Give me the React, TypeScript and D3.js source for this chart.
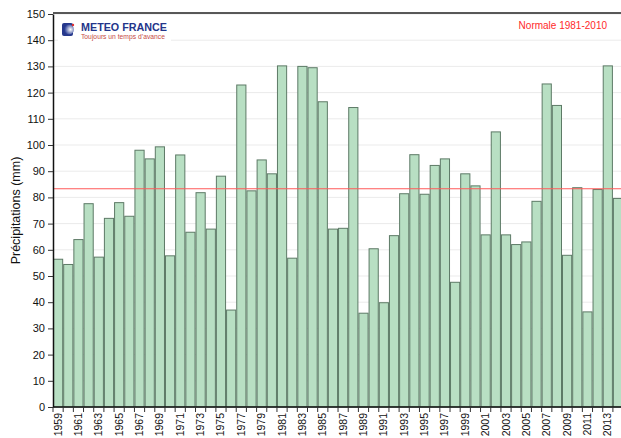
import React, { useEffect, useRef } from 'react';
import * as d3 from 'd3';

// annual precipitation (mm), 1959-2014
const years = d3.range(1959, 2015);
const precip = [
  56.4, 54.4, 63.9, 77.6, 57.2, 72.0, 78.0, 72.8, 98.0, 94.7,
  99.3, 57.7, 96.2, 66.7, 81.8, 67.9, 88.1, 37.0, 122.9, 82.5,
  94.3, 89.0, 130.2, 56.8, 130.0, 129.5, 116.5, 67.9, 68.2, 114.3,
  35.8, 60.4, 39.8, 65.4, 81.4, 96.3, 81.2, 92.2, 94.7, 47.6,
  89.0, 84.4, 65.7, 105.0, 65.7, 62.0, 63.0, 78.5, 123.3, 115.1,
  57.9, 83.7, 36.3, 83.0, 130.2, 79.6,
];
const normale = 83.3;
const yTicks = d3.range(0, 151, 10);

export default function App() {
  const ref = useRef<SVGSVGElement>(null);

  useEffect(() => {
    const svg = d3.select(ref.current);
    svg.selectAll('*').remove();

    const left = 53;
    const top = 14;
    const bottom = 407;
    const barW = 10.18;
    const right = left + barW * years.length;

    const x = d3.scaleBand<number>().domain(years).range([left, right]).padding(0);
    const y = d3.scaleLinear().domain([0, 150]).range([bottom, top]);

    svg.attr('font-family', 'Liberation Sans, Arial, sans-serif');

    // grid
    svg.append('g')
      .selectAll('line')
      .data(yTicks.slice(1))
      .join('line')
      .attr('x1', left)
      .attr('x2', 621)
      .attr('y1', d => y(d))
      .attr('y2', d => y(d))
      .attr('stroke', '#ebebeb')
      .attr('stroke-width', 1);

    // top border
    svg.append('line')
      .attr('x1', left).attr('x2', 621)
      .attr('y1', 13).attr('y2', 13)
      .attr('stroke', '#222').attr('stroke-width', 1.5);

    // logo box
    const logo = svg.append('g');
    logo.append('rect')
      .attr('x', 58).attr('y', 19).attr('width', 113).attr('height', 24)
      .attr('fill', '#fff');
    const grad = svg.append('defs').append('radialGradient').attr('id', 'lg')
      .attr('cx', '0.65').attr('cy', '0.5').attr('r', '0.6');
    grad.append('stop').attr('offset', '0').attr('stop-color', '#ffffff');
    grad.append('stop').attr('offset', '1').attr('stop-color', '#2a3e95');
    logo.append('rect')
      .attr('x', 62).attr('y', 23).attr('width', 11).attr('height', 13).attr('rx', 2)
      .attr('fill', '#26388c');
    logo.append('circle')
      .attr('cx', 69).attr('cy', 29.5).attr('r', 5)
      .attr('fill', 'url(#lg)');
    logo.append('circle')
      .attr('cx', 73).attr('cy', 25).attr('r', 1.2)
      .attr('fill', '#e23030');
    logo.append('text')
      .attr('x', 81).attr('y', 30.5)
      .attr('font-size', 10.5).attr('font-weight', 'bold')
      .attr('fill', '#24358a')
      .attr('textLength', 86).attr('lengthAdjust', 'spacingAndGlyphs')
      .text('METEO FRANCE');
    logo.append('text')
      .attr('x', 81).attr('y', 38.5)
      .attr('font-size', 7.2)
      .attr('fill', '#c64a45')
      .attr('textLength', 84).attr('lengthAdjust', 'spacingAndGlyphs')
      .text('Toujours un temps d’avance');

    // bars
    svg.append('g')
      .selectAll('rect')
      .data(precip)
      .join('rect')
      .attr('x', (d, i) => x(years[i])! + 0.5)
      .attr('y', d => y(d))
      .attr('width', x.bandwidth() - 1)
      .attr('height', d => bottom - y(d))
      .attr('fill', '#b8dfc3')
      .attr('stroke', '#5d7a66')
      .attr('stroke-width', 1);

    // normal line
    svg.append('line')
      .attr('x1', left).attr('x2', 621)
      .attr('y1', y(normale)).attr('y2', y(normale))
      .attr('stroke', '#ff5a5a').attr('stroke-width', 1);

    svg.append('text')
      .attr('x', 607).attr('y', 29)
      .attr('text-anchor', 'end')
      .attr('font-size', 10)
      .attr('fill', '#ff2a2a')
      .text('Normale 1981-2010');

    // y axis
    const ya = svg.append('g')
      .attr('transform', `translate(${left},0)`)
      .call(d3.axisLeft(y).tickValues(yTicks).tickSize(5).tickPadding(3).tickSizeOuter(0));
    ya.select('.domain').attr('stroke', '#111').attr('stroke-width', 1.5);
    ya.selectAll('.tick line').attr('stroke', '#333');
    ya.selectAll('text').attr('font-size', 11).attr('fill', '#111')
      .attr('font-family', 'Liberation Sans, Arial, sans-serif');

    svg.append('text')
      .attr('transform', `translate(20,${(top + bottom) / 2}) rotate(-90)`)
      .attr('text-anchor', 'middle')
      .attr('font-size', 12.5)
      .attr('fill', '#111')
      .text('Précipitations (mm)');

    // x axis
    svg.append('line')
      .attr('x1', left).attr('x2', 621)
      .attr('y1', bottom).attr('y2', bottom)
      .attr('stroke', '#111').attr('stroke-width', 1.5);
    svg.append('g')
      .selectAll('line')
      .data(years)
      .join('line')
      .attr('x1', d => x(d)!)
      .attr('x2', d => x(d)!)
      .attr('y1', bottom)
      .attr('y2', bottom + 5)
      .attr('stroke', '#333');
    svg.append('g')
      .selectAll('text')
      .data(years.filter(yr => (yr - 1959) % 2 === 0))
      .join('text')
      .attr('transform', d => `translate(${x(d)! + x.bandwidth() / 2 + 3.5},${bottom + 6}) rotate(-90)`)
      .attr('text-anchor', 'end')
      .attr('font-size', 10.5)
      .attr('fill', '#111')
      .text(d => String(d));
  }, []);

  return (
    <svg
      ref={ref}
      width={621}
      height={438}
      style={{ position: 'absolute', left: 0, top: 0, background: '#fff' }}
    />
  );
}
